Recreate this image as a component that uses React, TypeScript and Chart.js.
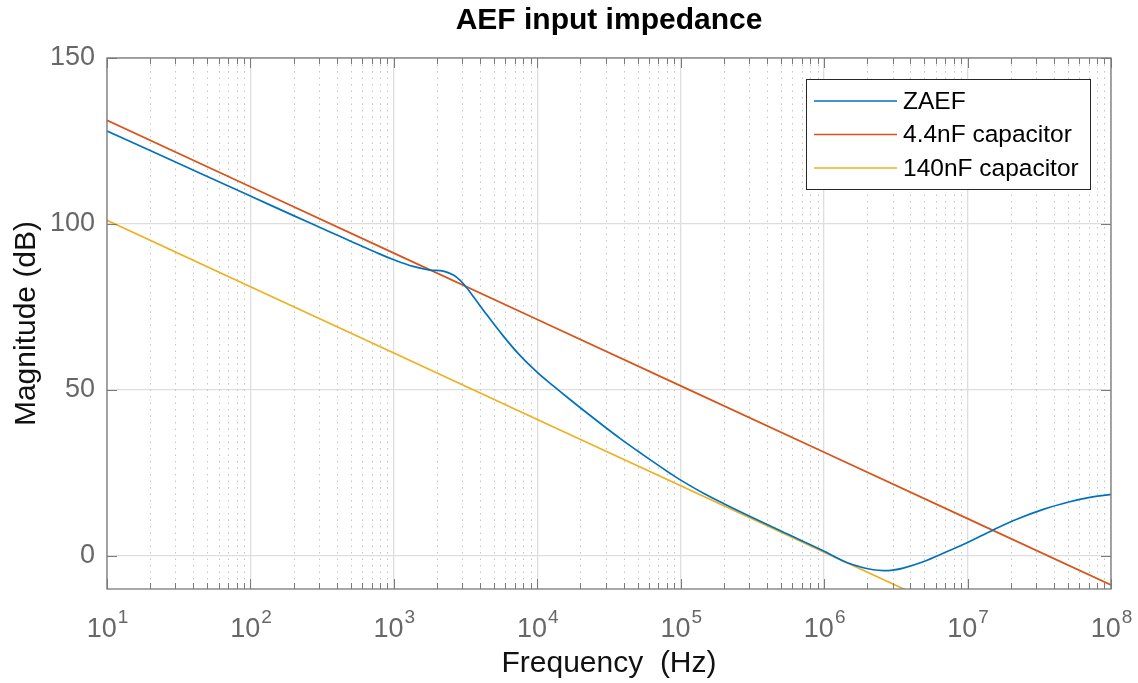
import React, { useEffect, useRef } from 'react';
import { Chart, registerables } from 'chart.js';

Chart.register(...registerables);

// ---------- data ----------
const TITLE = 'AEF input impedance';
const X_LABEL = 'Frequency  (Hz)';
const Y_LABEL = 'Magnitude (dB)';
const SERIES_NAMES = ['ZAEF', '4.4nF capacitor', '140nF capacitor'];
const SERIES_COLORS = ['#0072BD', '#D95319', '#EDB120'];

const zaefFreq = [
  10, 20, 50, 100, 200, 359, 500, 800, 1000, 1365, 1786, 2213, 2600, 2900, 3200,
  3600, 4436, 5800, 7570, 10000, 12940, 16900, 22100, 28860, 37730, 49300, 64400,
  84100, 100000, 144000, 200000, 300000, 500000, 1000000, 1200000, 1435000, 1875000,
  2200000, 2580000, 3000000, 3560000, 4910000, 7140000, 10000000, 15100000, 22000000,
  33700000, 51600000, 71300000, 100000000,
];
const zaefDb = [
  128.0, 122.1, 114.3, 108.4, 102.5, 97.6, 94.8, 90.9, 89.2, 87.2, 86.1, 85.8, 84.6, 83.0, 80.9,
  78.0, 72.7, 66.2, 60.4, 55.3, 51.2, 47.1, 43.1, 39.2, 35.4, 31.8, 28.3,
  24.9, 22.8, 18.85, 15.7, 12.0, 7.45, 1.4, -0.4, -2.0, -3.6,
  -4.2, -4.45, -4.3, -3.7, -1.8, 1.2, 4.0, 7.8, 11.0,
  14.0, 16.3, 17.6, 18.5,
];

const cap44Freq = [1e1, 1e2, 1e3, 1e4, 1e5, 1e6, 1e7, 1e8];
const cap44Db = [131.2, 111.2, 91.2, 71.2, 51.2, 31.2, 11.2, -8.8];

const cap140Freq = [1e1, 1e2, 1e3, 1e4, 1e5, 1e6, 1e7];
const cap140Db = [101.1, 81.1, 61.1, 41.1, 21.1, 1.1, -18.9];

const xMajorTicks = [1e1, 1e2, 1e3, 1e4, 1e5, 1e6, 1e7, 1e8];
const xTickBase = '10';
const xTickExponents = ['1', '2', '3', '4', '5', '6', '7', '8'];
const yTicks = [0, 50, 100, 150];
const yTickLabels = ['0', '50', '100', '150'];
const X_MIN = 10;
const X_MAX = 1e8;
const Y_MIN = -10;
const Y_MAX = 150;

// ---------- style ----------
const W = 1138;
const H = 683;
const FONT = '"Liberation Sans", Arial, Helvetica, sans-serif';
const AXIS_COLOR = '#7a7a7a';
const TICK_TEXT = '#676767';
const MAJOR_GRID = '#dedede';
const MINOR_GRID = '#c4c4c4';

const zip = (xs: number[], ys: number[]) => xs.map((x, i) => ({ x, y: ys[i] }));

const decorPlugin = {
  id: 'matlabDecor',
  beforeDatasetsDraw(chart: any) {
    const { ctx, chartArea } = chart;
    const xs = chart.scales.x;
    ctx.save();
    ctx.beginPath();
    ctx.rect(chartArea.left, chartArea.top, chartArea.right - chartArea.left, chartArea.bottom - chartArea.top);
    ctx.clip();
    ctx.strokeStyle = MINOR_GRID;
    ctx.lineWidth = 1;
    ctx.setLineDash([1.5, 5]);
    for (let d = 1; d < 8; d++) {
      for (let m = 2; m <= 9; m++) {
        const px = Math.round(xs.getPixelForValue(m * Math.pow(10, d))) + 0.5;
        ctx.beginPath();
        ctx.moveTo(px, chartArea.top);
        ctx.lineTo(px, chartArea.bottom);
        ctx.stroke();
      }
    }
    ctx.restore();
  },
  afterDraw(chart: any) {
    const { ctx, chartArea } = chart;
    const xs = chart.scales.x;
    const ys = chart.scales.y;
    const { left, right, top, bottom } = chartArea;
    ctx.save();
    // box
    ctx.strokeStyle = AXIS_COLOR;
    ctx.lineWidth = 1.3;
    ctx.setLineDash([]);
    ctx.strokeRect(left, top, right - left, bottom - top);
    // x ticks (inward, top and bottom)
    ctx.lineWidth = 1;
    for (let d = 1; d < 8; d++) {
      for (let m = 2; m <= 9; m++) {
        const px = Math.round(xs.getPixelForValue(m * Math.pow(10, d))) + 0.5;
        ctx.beginPath();
        ctx.moveTo(px, bottom);
        ctx.lineTo(px, bottom - 6);
        ctx.moveTo(px, top);
        ctx.lineTo(px, top + 6);
        ctx.stroke();
      }
    }
    xMajorTicks.forEach((v) => {
      const px = Math.round(xs.getPixelForValue(v)) + 0.5;
      ctx.beginPath();
      ctx.moveTo(px, bottom);
      ctx.lineTo(px, bottom - 10);
      ctx.moveTo(px, top);
      ctx.lineTo(px, top + 10);
      ctx.stroke();
    });
    yTicks.forEach((v) => {
      const py = Math.round(ys.getPixelForValue(v)) + 0.5;
      ctx.beginPath();
      ctx.moveTo(left, py);
      ctx.lineTo(left + 10, py);
      ctx.moveTo(right, py);
      ctx.lineTo(right - 10, py);
      ctx.stroke();
    });
    // x tick labels: 10^n
    ctx.fillStyle = TICK_TEXT;
    ctx.textBaseline = 'alphabetic';
    xMajorTicks.forEach((v, i) => {
      const px = xs.getPixelForValue(v);
      ctx.font = `27px ${FONT}`;
      const wb = ctx.measureText(xTickBase).width;
      ctx.font = `19px ${FONT}`;
      const we = ctx.measureText(xTickExponents[i]).width;
      const x0 = px - (wb + we) / 2;
      ctx.font = `27px ${FONT}`;
      ctx.textAlign = 'left';
      ctx.fillText(xTickBase, x0, 637);
      ctx.font = `19px ${FONT}`;
      ctx.fillText(xTickExponents[i], x0 + wb + 1, 623);
    });
    // titles
    const cx = (left + right) / 2;
    ctx.fillStyle = '#000000';
    ctx.textAlign = 'center';
    ctx.font = `bold 30px ${FONT}`;
    ctx.fillText(TITLE, cx, 29);
    ctx.fillStyle = '#111111';
    ctx.font = `30px ${FONT}`;
    ctx.fillText(X_LABEL, cx, 672);
    ctx.save();
    ctx.translate(35, (top + bottom) / 2);
    ctx.rotate(-Math.PI / 2);
    ctx.fillText(Y_LABEL, 0, 0);
    ctx.restore();
    // legend
    const lx = 806, ly = 79, lw = 284, lh = 110;
    ctx.fillStyle = '#ffffff';
    ctx.fillRect(lx, ly, lw, lh);
    ctx.strokeStyle = '#262626';
    ctx.lineWidth = 1;
    ctx.strokeRect(lx + 0.5, ly + 0.5, lw, lh);
    const rows = [101, 134.5, 168];
    SERIES_NAMES.forEach((name, i) => {
      ctx.strokeStyle = SERIES_COLORS[i];
      ctx.lineWidth = 1.4;
      ctx.beginPath();
      ctx.moveTo(814, rows[i]);
      ctx.lineTo(897, rows[i]);
      ctx.stroke();
      ctx.fillStyle = '#000000';
      ctx.font = `24.5px ${FONT}`;
      ctx.textAlign = 'left';
      ctx.textBaseline = 'middle';
      ctx.fillText(name, 903, rows[i] + 1);
    });
    ctx.restore();
  },
};

export default function App() {
  const ref = useRef<HTMLCanvasElement | null>(null);
  useEffect(() => {
    if (!ref.current) return;
    const chart = new Chart(ref.current, {
      type: 'line',
      data: {
        datasets: [
          {
            label: SERIES_NAMES[0],
            data: zip(zaefFreq, zaefDb),
            borderColor: SERIES_COLORS[0],
            borderWidth: 1.7,
            pointRadius: 0,
            tension: 0.35,
            fill: false,
          },
          {
            label: SERIES_NAMES[1],
            data: zip(cap44Freq, cap44Db),
            borderColor: SERIES_COLORS[1],
            borderWidth: 1.7,
            pointRadius: 0,
            tension: 0,
            fill: false,
          },
          {
            label: SERIES_NAMES[2],
            data: zip(cap140Freq, cap140Db),
            borderColor: SERIES_COLORS[2],
            borderWidth: 1.7,
            pointRadius: 0,
            tension: 0,
            fill: false,
          },
        ],
      },
      options: {
        animation: false,
        responsive: false,
        devicePixelRatio: 1,
        layout: { padding: { top: 58, right: 27, bottom: 0, left: 0 } },
        plugins: {
          legend: { display: false },
          title: { display: false },
          tooltip: { enabled: false },
        },
        scales: {
          x: {
            type: 'logarithmic',
            position: 'bottom',
            min: X_MIN,
            max: X_MAX,
            afterBuildTicks: (s: any) => {
              s.ticks = xMajorTicks.map((v) => ({ value: v }));
            },
            afterFit: (s: any) => {
              s.height = 94;
            },
            ticks: { display: false },
            grid: { color: MAJOR_GRID, lineWidth: 1.3, drawTicks: false },
            border: { display: false },
          },
          y: {
            type: 'linear',
            min: Y_MIN,
            max: Y_MAX,
            afterBuildTicks: (s: any) => {
              s.ticks = yTicks.map((v) => ({ value: v }));
            },
            afterFit: (s: any) => {
              s.width = 107;
            },
            ticks: {
              color: TICK_TEXT,
              font: { family: FONT, size: 27 },
              padding: 12,
              callback: (v: any) => {
                const i = yTicks.indexOf(Number(v));
                return i >= 0 ? yTickLabels[i] : '';
              },
            },
            grid: { color: MAJOR_GRID, lineWidth: 1.3, drawTicks: false },
            border: { display: false },
          },
        },
      },
      plugins: [decorPlugin],
    } as any);
    return () => chart.destroy();
  }, []);
  return (
    <div style={{ position: 'absolute', left: 0, top: 0, width: W, height: H, background: '#fff' }}>
      <canvas ref={ref} width={W} height={H} style={{ display: 'block', width: W, height: H }} />
    </div>
  );
}
